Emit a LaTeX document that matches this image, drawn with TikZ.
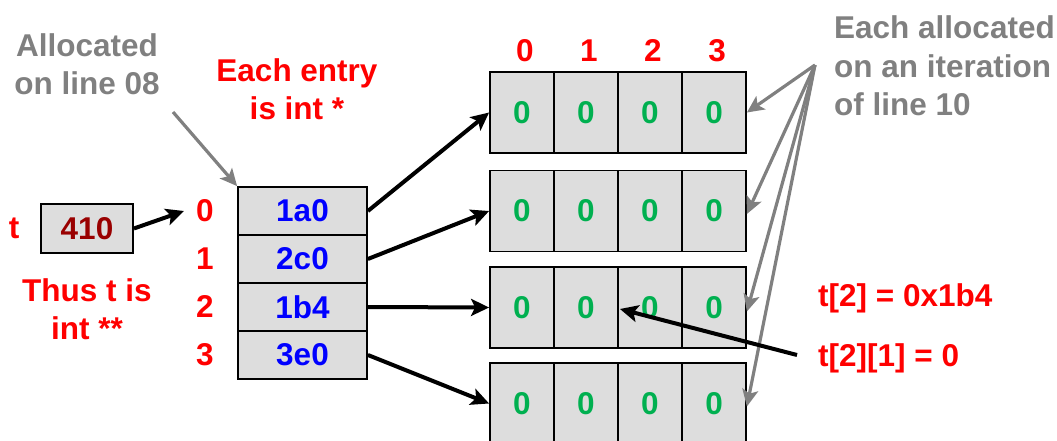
\documentclass[tikz,border=0pt]{standalone}
\usepackage{fontspec}
\setmainfont{Liberation Sans}
\usetikzlibrary{arrows.meta}
\definecolor{cellfill}{HTML}{DDDDDD}
\definecolor{myred}{HTML}{FF0000}
\definecolor{mydarkred}{HTML}{990000}
\definecolor{myblue}{HTML}{0000FF}
\definecolor{mygreen}{HTML}{00B050}
\definecolor{mygray}{HTML}{808080}
\tikzset{
  every node/.style={font=\fontsize{31.5}{38.5}\selectfont\bfseries, inner sep=0pt},
  cellbox/.style={draw=black, line width=1.8pt, fill=cellfill, minimum width=64pt, minimum height=81pt},
  ptrbox/.style={draw=black, line width=1.8pt, fill=cellfill, minimum width=129pt, minimum height=48pt, text=myblue},
  redlbl/.style={text=myred, align=center},
  graylbl/.style={text=mygray, align=center},
  blackarrow/.style={draw=black, line width=4pt, -{Stealth[length=18pt,width=17pt,inset=4pt]}},
  grayarrow/.style={draw=mygray, line width=3.2pt, -{Stealth[length=17pt,width=16pt,inset=4pt]}},
}
\begin{document}
\begin{tikzpicture}[x=1pt,y=-1pt]
\useasboundingbox (0,0) rectangle (1057,441);
\clip (0,0) rectangle (1057,441);
% t variable
\node[text=myred] (tlbl) at (14,228) {t};
\node[draw=black, line width=1.8pt, fill=cellfill, minimum width=92pt, minimum height=49pt, text=mydarkred] (tbox) at (87,228.5) {410};
\node[redlbl] (thus) at (87,309) {Thus t is\\int **};
\node[graylbl] (alloc) at (87,64) {Allocated\\on line 08};
\node[redlbl] (entry) at (297,89) {Each entry\\is int *};
% pointer array
\foreach \i/\v/\y in {0/1a0/211,1/2c0/259,2/1b4/307,3/3e0/355}{
  \node[ptrbox] (p\i) at (302.5,\y) {\v};
  \node[text=myred] (pi\i) at (205,\y) {\i};
}
% column indices
\foreach \c/\x in {0/525,1/589,2/653,3/717}{
  \node[text=myred] (ci\c) at (\x,51) {\c};
}
% row arrays
\foreach \r/\y in {0/112.5,1/211,2/307.5,3/403.5}{
  \foreach \c/\x in {0/522,1/586,2/650,3/714}{
    \node[cellbox, text=mygreen] (a\r\c) at (\x,\y) {0};
  }
}
% labels right
\node[text=mygray, anchor=west, align=left] (each) at (834,66) {Each allocated\\on an iteration\\of line 10};
\node[text=myred, anchor=west] (l2) at (818,298) {t[2] = 0x1b4};
\node[text=myred, anchor=west] (l21) at (818,358) {t[2][1] = 0};
% coordinates
\coordinate (tend) at (184,211);
\coordinate (allocstart) at (173,112);
\coordinate (hub) at (815,65);
\coordinate (l21start) at (797,355);
\coordinate (cellpt) at (620,309);
% arrows
\draw[blackarrow] (tbox.east) -- (tend);
\draw[blackarrow] (p0.east) -- (a00.west);
\draw[blackarrow] (p1.east) -- (a10.west);
\draw[blackarrow] (p2.east) -- (a20.west);
\draw[blackarrow] (p3.east) -- (a30.west);
\draw[grayarrow] (allocstart) -- (p0.north west);
\draw[grayarrow] (hub) -- (a03.east);
\draw[grayarrow] (hub) -- ([yshift=-3pt]a13.east);
\draw[grayarrow] (hub) -- ([yshift=-4pt]a23.east);
\draw[grayarrow] (hub) -- ([yshift=-3pt]a33.east);
\draw[blackarrow] (l21start) -- (cellpt);
\end{tikzpicture}
\end{document}
